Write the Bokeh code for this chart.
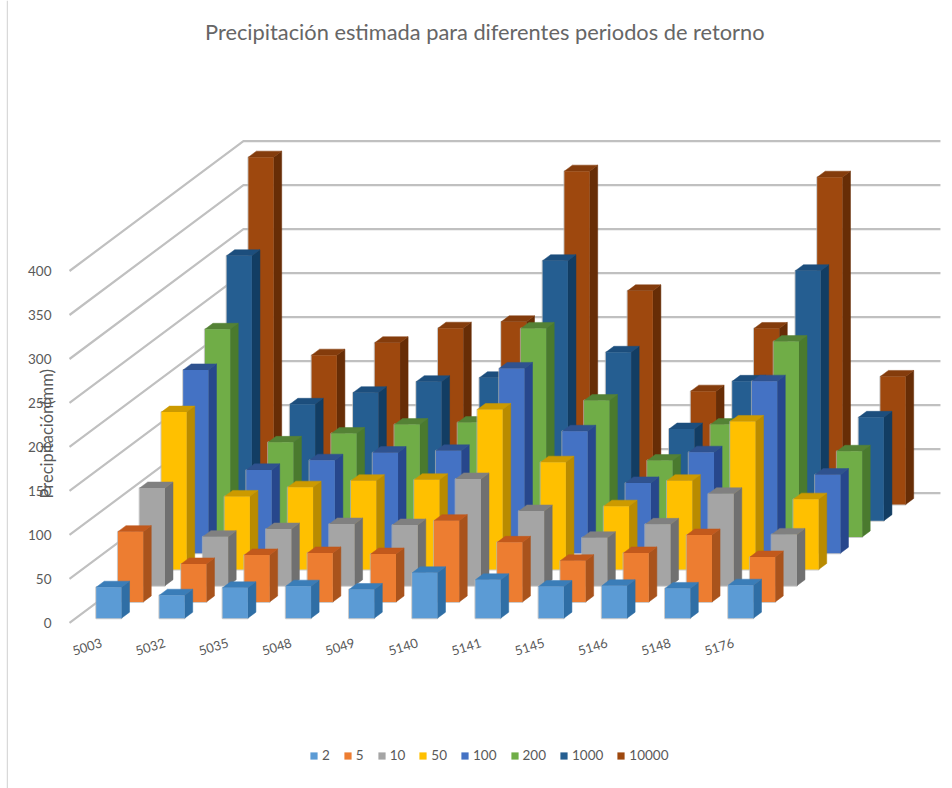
from bokeh.embed import file_html
from bokeh.resources import INLINE
from bokeh.plotting import figure
from bokeh.models import (FixedTicker, Label, Legend, LegendItem, LinearAxis, Range1d)

TITLE = "Precipitación estimada para diferentes periodos de retorno"
Y_LABEL = "Precipitación(mm)"
categories = ["5003", "5032", "5035", "5048", "5049", "5140", "5141", "5145", "5146", "5148", "5176"]
y_ticks = [0, 50, 100, 150, 200, 250, 300, 350, 400]

series_names = ["2", "5", "10", "50", "100", "200", "1000", "10000"]
s2 = [35.2, 26.1, 34.5, 36.4, 32.6, 51.6, 43.6, 36.0, 36.8, 33.8, 37.5]
s5 = [79.9, 43.2, 53.4, 55.7, 54.5, 92.4, 67.7, 46.9, 55.7, 76.1, 51.1]
s10 = [111.0, 55.7, 64.4, 70.1, 69.0, 121.3, 84.9, 54.5, 69.7, 104.5, 58.3]
s50 = [178.8, 83.0, 93.5, 100.8, 101.9, 181.8, 121.9, 71.9, 100.8, 168.2, 79.9]
s100 = [208.3, 94.7, 105.7, 114.3, 116.3, 210.0, 138.6, 79.9, 114.8, 195.5, 89.3]
s200 = [236.0, 107.5, 117.5, 127.7, 130.0, 237.0, 155.0, 86.8, 127.7, 222.0, 97.4]
s1000 = [301.1, 132.3, 145.5, 158.0, 162.5, 295.5, 191.4, 104.2, 158.4, 284.1, 117.5]
s10000 = [394.7, 169.7, 183.8, 200.3, 207.6, 378.8, 242.8, 128.8, 200.0, 371.9, 145.5]
series_values = [s2, s5, s10, s50, s100, s200, s1000, s10000]

colors_front = ["#5B9BD5", "#ED7D31", "#A5A5A5", "#FFC000", "#4472C4", "#70AD47", "#255E91", "#9E480E"]
colors_side = ["#2F6EA5", "#A9531C", "#707070", "#B98B00", "#27478C", "#4A7A2E", "#123D63", "#672D06"]
colors_top = ["#3A7DB8", "#C2591C", "#808080", "#CC9A00", "#2F528F", "#548235", "#1C4E7D", "#843C0C"]

# Oblique projection of (category position, depth row, value) on to the plane
SKEW_X = 0.344     # category widths per depth row
SKEW_Y = 18.46     # value units per depth row
BAR_X = -0.1854    # left edge of a bar relative to its category tick
BAR_W = 0.40       # bar width, in category widths
ROW_D0 = 0.295     # front of a bar within its depth row
ROW_DW = 0.37      # bar depth, in rows
WALL_X = -0.5063   # the front of the left wall
WALL_END_X = 13.275  # right end of the back wall
AXIS_X = -0.5222   # where the value axis sits
FRAME_X0, FRAME_X1 = -1.5032, 13.339
FRAME_Y0, FRAME_Y1 = -188.1, 707.4
N_ROWS = 8


def project(xpos, depth, v):
    return xpos + depth * SKEW_X, v + depth * SKEW_Y


p = figure(width=944, height=788, output_backend="svg", toolbar_location=None,
           x_range=Range1d(FRAME_X0, FRAME_X1), y_range=Range1d(FRAME_Y0, FRAME_Y1),
           x_axis_location=None, y_axis_location=None,
           min_border_left=6, min_border_right=0, min_border_top=0, min_border_bottom=0,
           outline_line_color=None)
p.grid.visible = False

TEXT = "#595959"
yaxis = LinearAxis(ticker=FixedTicker(ticks=y_ticks), axis_line_color=None,
                   major_tick_line_color=None, minor_tick_line_color=None,
                   major_label_text_font="Lato", major_label_text_font_size="13.5px",
                   major_label_text_color=TEXT, major_label_standoff=11, fixed_location=AXIS_X)
p.add_layout(yaxis, "left")

xaxis = LinearAxis(ticker=FixedTicker(ticks=list(range(len(categories)))),
                   major_label_overrides={i: c for i, c in enumerate(categories)},
                   axis_line_color=None, major_tick_line_color=None, minor_tick_line_color=None,
                   major_label_text_font="Lato", major_label_text_font_size="13px",
                   major_label_text_color=TEXT, major_label_orientation=0.30,
                   major_label_standoff=6, fixed_location=-8.0)
p.add_layout(xaxis, "below")

# page edge rule on the left
p.segment([FRAME_X0 + 0.012], [FRAME_Y0], [FRAME_X0 + 0.012], [FRAME_Y1], line_color="#d9d9d9", line_width=1.5)

# walls
gx, gy = [], []
for v in y_ticks:
    fx, fy = project(WALL_X, 0, v)
    bx, by = project(WALL_X, N_ROWS, v)
    gx.append([fx, bx, WALL_END_X])
    gy.append([fy, by, by])
p.multi_line(gx, gy, line_color="#c0c0c0", line_width=2.2)

items = []
for j in range(len(series_names) - 1, -1, -1):
    d0 = j + ROW_D0
    d1 = d0 + ROW_DW
    front_x, front_y, side_x, side_y, top_x, top_y = [], [], [], [], [], []
    for i, v in enumerate(series_values[j]):
        x0 = i + BAR_X
        x1 = x0 + BAR_W
        a, b = project(x0, d0, 0), project(x1, d0, 0)
        c, d = project(x1, d0, v), project(x0, d0, v)
        e, f = project(x1, d1, 0), project(x1, d1, v)
        g = project(x0, d1, v)
        front_x.append([a[0], b[0], c[0], d[0]])
        front_y.append([a[1], b[1], c[1], d[1]])
        side_x.append([b[0], e[0], f[0], c[0]])
        side_y.append([b[1], e[1], f[1], c[1]])
        top_x.append([d[0], c[0], f[0], g[0]])
        top_y.append([d[1], c[1], f[1], g[1]])
    p.patches(front_x, front_y, fill_alpha=0, line_color="#b5b5b5", line_width=2, line_alpha=0.7)
    p.patches(side_x, side_y, fill_color=colors_side[j], line_color=colors_side[j], line_width=0.5)
    p.patches(top_x, top_y, fill_color=colors_top[j], line_color=colors_top[j], line_width=0.5)
    r = p.patches(front_x, front_y, fill_color=colors_front[j], line_color=None)
    items.insert(0, LegendItem(label=series_names[j], renderers=[r]))

legend = Legend(items=items, orientation="horizontal", location=(303, 24), border_line_color=None,
                background_fill_alpha=0, padding=0, margin=0, spacing=13,
                glyph_width=9, glyph_height=9, label_standoff=4, label_width=0, label_height=18,
                label_text_font="Lato", label_text_font_size="13.5px", label_text_color=TEXT)
p.add_layout(legend, "center")

p.add_layout(Label(x=-0.87, y=215.0, text=Y_LABEL, angle=90, angle_units="deg",
                   text_align="center", text_baseline="middle", text_font="Lato",
                   text_font_size="16.5px", text_color=TEXT))

p.add_layout(Label(x=6.065, y=672.0, text=TITLE, text_align="center", text_baseline="middle",
                   text_font="Lato", text_font_size="21.8px", text_color="#666666"))

open("out.html", "w").write(file_html(p, INLINE))
